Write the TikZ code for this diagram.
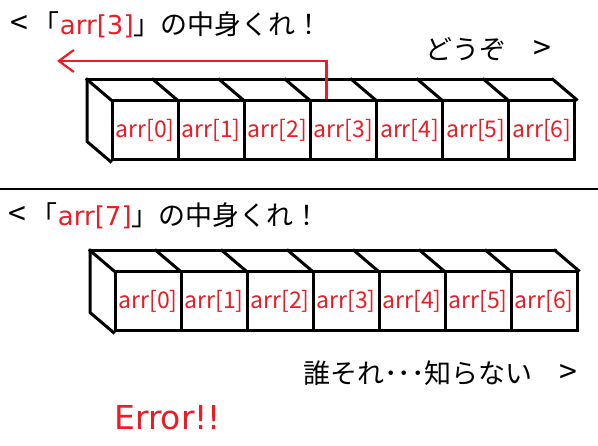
\documentclass[tikz,border=0pt]{standalone}
\usepackage{fontspec}
\newfontfamily\jp{Noto Sans CJK JP}
\newfontfamily\lat{DejaVu Sans}
\usetikzlibrary{arrows.meta,calc}
\definecolor{myred}{RGB}{237,28,36}
\newcommand{\bigGt}{{\fontsize{32}{30}\selectfont >}}
\newcommand{\bigLt}{{\fontsize{32}{30}\selectfont <}}
\begin{document}
\begin{tikzpicture}[x=1pt,y=-1pt,
  cell/.style={draw=black,line width=3pt,minimum height=59pt,inner sep=0pt,
    text=myred,font=\jp\fontsize{23}{26}\selectfont},
  edge3d/.style={line width=3pt,line cap=rect},
  say/.style={inner sep=0pt,anchor=base west,font=\jp\fontsize{27}{30}\selectfont},
  pointer/.style={draw=myred,line width=2.2pt,-{Straight Barb[length=15pt,width=22pt]}},
  sep/.style={line width=2.5pt}]
\useasboundingbox (0,0) rectangle (598,446);
% top array
\foreach \i in {0,...,6}{
  \node[cell,minimum width=66.14pt] (a\i) at ({112+66.14*(\i+0.5)},130.5) {arr[\i]};
}
% bottom array
\foreach \i in {0,...,6}{
  \node[cell,minimum width=66pt] (b\i) at ({115+66*(\i+0.5)},301.5) {arr[\i]};
}
% 3d edges
\foreach \r in {a,b}{
  \draw[edge3d] ($(\r0.north west)+(-23.5,-20)$) -- ($(\r6.north east)+(-23.5,-20)$);
  \draw[edge3d] ($(\r0.north west)+(-23.5,-20)$) -- ($(\r0.south west)+(-23.5,-20)$) -- (\r0.south west);
  \foreach \i in {0,...,6}{
    \draw[edge3d] ($(\r\i.north west)+(-23.5,-20)$) -- (\r\i.north west);
  }
  \draw[edge3d] ($(\r6.north east)+(-23.5,-20)$) -- (\r6.north east);
}
% separator
\coordinate (sl) at (0,189);
\coordinate (sr) at (598,189);
\draw[sep] (sl) -- (sr);
% texts
\node[say] (q1) at (10,35) {\bigLt\hspace{5pt}「{\color{myred}\lat\fontsize{26}{30}\selectfont arr[3]}」の中身くれ！};
\node[say] (r1) at (425,60) {どうぞ　\bigGt};
\node[say] (q2) at (8,226) {\bigLt\hspace{5pt}「{\color{myred}\lat\fontsize{26}{30}\selectfont arr[7]}」の中身くれ！};
\node[say] (r2) at (303,384) {誰それ･･･知らない　\bigGt};
\node[inner sep=0pt,anchor=base west,text=myred,font=\lat\fontsize{33}{36}\selectfont] (err) at (114,430) {Error!!};
% pointer arrow
\coordinate (tip) at (57,61);
\draw[pointer] ([xshift=-17pt]a3.north) |- (tip);
\end{tikzpicture}
\end{document}
